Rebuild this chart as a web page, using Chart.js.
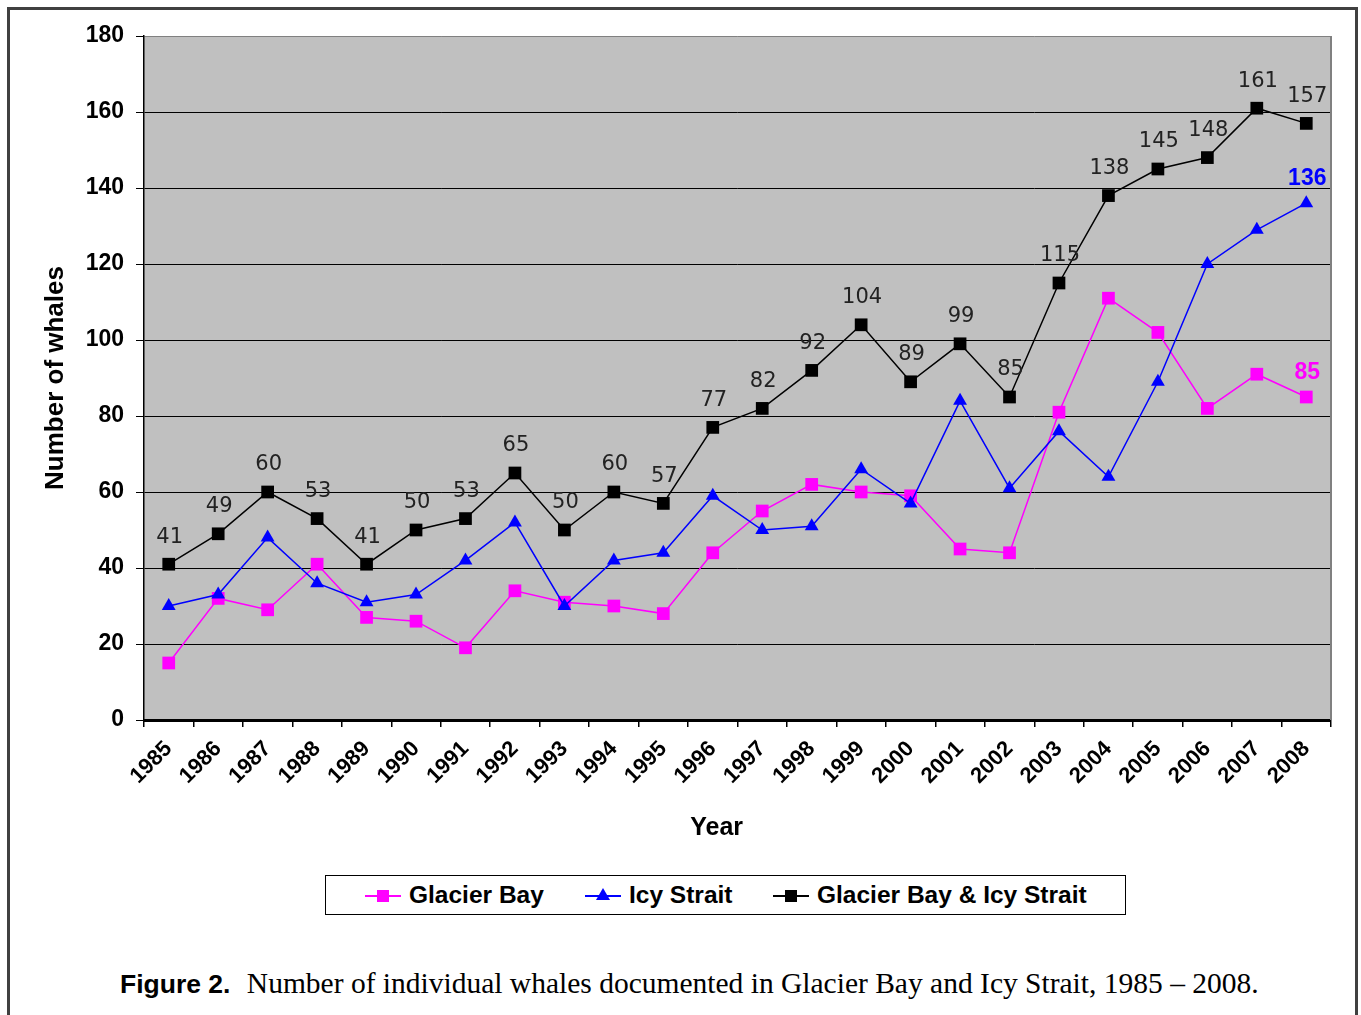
<!DOCTYPE html>
<html lang="en">
<head>
  <meta charset="UTF-8" />
  <title>Whales in Glacier Bay and Icy Strait</title>
  <script src="https://cdn.jsdelivr.net/npm/chart.js"></script>
  <style>
    body { margin: 0; background: #fff; font-family: "Liberation Sans", Arial, sans-serif; }
    .frame { position: absolute; left: 7px; top: 7px; width: 1345px; height: 1100px; border: 3px solid #404040; }
    #wrap { position: absolute; left: 0; top: 0; width: 1361px; height: 860px; }
    .legend { position: absolute; left: 325px; top: 875px; width: 799px; height: 38px; border: 1.5px solid #000; background: #fff; }
    .item { position: absolute; top: 6px; font-weight: bold; font-size: 24.5px; line-height: 26px; white-space: nowrap; }
    .ln { position: absolute; top: 13px; width: 36px; height: 2px; }
    .sq { position: absolute; top: 8px; left: 12px; width: 12px; height: 12px; }
    .tri { position: absolute; top: 6px; left: 11px; width: 0; height: 0; border-left: 7px solid transparent; border-right: 7px solid transparent; border-bottom: 12px solid #0000ff; }
    .caption { position: absolute; left: 120px; top: 966px; font-size: 29.5px; white-space: nowrap; }
    .caption b { font-family: "Liberation Sans", Arial, sans-serif; font-size: 26.5px; }
    .caption span { font-family: "Liberation Serif", "Times New Roman", serif; }
  </style>
</head>
<body>
  <div class="frame"></div>
  <div id="wrap"><canvas id="whaleChart" width="1361" height="860"></canvas></div>
  <div class="legend">
    <div class="item" style="left:39px"><div class="ln" style="left:0;background:#ff00ff"><div class="sq" style="top:-5px;background:#ff00ff"></div></div><span style="margin-left:44px">Glacier Bay</span></div>
    <div class="item" style="left:259px"><div class="ln" style="left:0;background:#0000ff"><div class="tri" style="top:-7px"></div></div><span style="margin-left:44px">Icy Strait</span></div>
    <div class="item" style="left:447px"><div class="ln" style="left:0;background:#000"><div class="sq" style="top:-5px;background:#000"></div></div><span style="margin-left:44px">Glacier Bay &amp; Icy Strait</span></div>
  </div>
  <div class="caption"><b>Figure 2.</b>&nbsp; <span>Number of individual whales documented in Glacier Bay and Icy Strait, 1985 – 2008.</span></div>
  <script>
    const years = ['1985', '1986', '1987', '1988', '1989', '1990', '1991', '1992', '1993', '1994', '1995', '1996',
                   '1997', '1998', '1999', '2000', '2001', '2002', '2003', '2004', '2005', '2006', '2007', '2008'];
    const glacierBay = [15, 32, 29, 41, 27, 26, 19, 34, 31, 30, 28, 44, 55, 62, 60, 59, 45, 44, 81, 111, 102, 82, 91, 85];
    const icyStrait = [30, 33, 48, 36, 31, 33, 42, 52, 30, 42, 44, 59, 50, 51, 66, 57, 84, 61, 76, 64, 89, 120, 129, 136];
    const combined = [41, 49, 60, 53, 41, 50, 53, 65, 50, 60, 57, 77, 82, 92, 104, 89, 99, 85, 115, 138, 145, 148, 161, 157];
    const yTicks = [0, 20, 40, 60, 80, 100, 120, 140, 160, 180];

    // grey plot area behind the lines
    const plotBg = {
      id: 'plotBg',
      beforeDraw(chart) {
        const { ctx, chartArea: a } = chart;
        ctx.save();
        ctx.fillStyle = '#c0c0c0';
        ctx.fillRect(a.left, a.top, a.right - a.left, a.bottom - a.top);
        ctx.restore();
      },
      afterDraw(chart) {
        const { ctx, chartArea: a } = chart;
        ctx.save();
        ctx.strokeStyle = '#808080';
        ctx.lineWidth = 2;
        ctx.beginPath();
        ctx.moveTo(a.right, a.top);
        ctx.lineTo(a.right, a.bottom);
        ctx.stroke();
        ctx.restore();
      }
    };

    // value labels above the points
    const valueLabels = {
      id: 'valueLabels',
      afterDatasetsDraw(chart) {
        const { ctx } = chart;
        const cfg = [
          { ds: 2, all: true, font: '21px "DejaVu Sans"', color: '#222', off: 27 },
          { ds: 1, all: false, font: 'bold 23px "Liberation Sans"', color: '#0000ff', off: 25 },
          { ds: 0, all: false, font: 'bold 23px "Liberation Sans"', color: '#ff00ff', off: 24 }
        ];
        ctx.save();
        ctx.textAlign = 'center';
        ctx.textBaseline = 'middle';
        cfg.forEach(c => {
          const pts = chart.getDatasetMeta(c.ds).data;
          const vals = chart.data.datasets[c.ds].data;
          ctx.font = c.font;
          ctx.fillStyle = c.color;
          pts.forEach((p, i) => {
            if (!c.all && i !== pts.length - 1) return;
            ctx.fillText(String(vals[i]), p.x + 1, p.y - c.off);
          });
        });
        ctx.restore();
      }
    };

    new Chart(document.getElementById('whaleChart').getContext('2d'), {
      type: 'line',
      data: {
        labels: years,
        datasets: [
          { label: 'Glacier Bay', data: glacierBay, borderColor: '#ff00ff', backgroundColor: '#ff00ff',
            borderWidth: 1.5, pointStyle: 'rect', pointRadius: 9, pointBorderWidth: 0, order: 3 },
          { label: 'Icy Strait', data: icyStrait, borderColor: '#0000ff', backgroundColor: '#0000ff',
            borderWidth: 1.5, pointStyle: 'triangle', pointRadius: 8, pointBorderWidth: 0, order: 2 },
          { label: 'Glacier Bay & Icy Strait', data: combined, borderColor: '#000', backgroundColor: '#000',
            borderWidth: 1.5, pointStyle: 'rect', pointRadius: 9, pointBorderWidth: 0, order: 1 }
        ]
      },
      options: {
        responsive: false,
        animation: false,
        layout: { padding: { top: 36, left: 0, right: 30, bottom: 10 } },
        plugins: { legend: { display: false }, tooltip: { enabled: false } },
        elements: { line: { tension: 0 } },
        scales: {
          x: {
            offset: true,
            grid: { offset: true, drawOnChartArea: false, drawTicks: true, tickLength: 7, color: '#000', lineWidth: 1.5 },
            border: { color: '#000', width: 3 },
            ticks: { color: '#000', font: { family: 'Liberation Sans', size: 22, weight: 'bold' }, minRotation: 45, maxRotation: 45, padding: 9 },
            title: { display: true, text: 'Year      ', color: '#000', font: { family: 'Liberation Sans', size: 25, weight: 'bold' }, padding: { top: 0, bottom: 7 } },
            afterFit: s => { s.height = 130; }
          },
          y: {
            min: 0,
            max: 180,
            afterBuildTicks: s => { s.ticks = yTicks.map(v => ({ value: v })); },
            grid: {
              color: c => (c.tick && c.tick.value === 180 ? '#808080' : '#000'),
              lineWidth: 1,
              borderDash: [4, 3],
              tickBorderDash: [1, 0],
              tickColor: '#000',
              tickLength: 8
            },
            border: { color: '#000', width: 1.5 },
            ticks: { color: '#000', font: { family: 'Liberation Sans', size: 23, weight: 'bold' }, padding: 12 },
            title: { display: true, text: 'Number of whales', color: '#000', font: { family: 'Liberation Sans', size: 26, weight: 'bold' }, padding: { top: 40, bottom: 0 } },
            afterFit: s => { s.width = 144; }
          }
        }
      },
      plugins: [plotBg, valueLabels]
    });
  </script>
</body>
</html>
